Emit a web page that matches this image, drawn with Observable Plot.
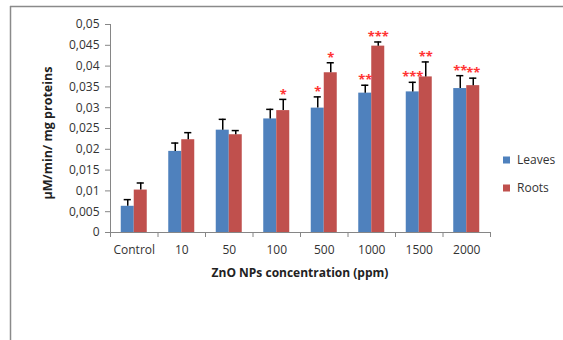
<!DOCTYPE html>
<html>
<head>
<meta charset="utf-8">
<script src="https://cdn.jsdelivr.net/npm/d3@7"></script>
<script src="https://cdn.jsdelivr.net/npm/@observablehq/plot@0.6"></script>
<style>
  body { margin: 0; background: white; }
  #chart svg { display: block; }
</style>
</head>
<body>
<div id="chart"></div>
<script>
const categories = ["Control", "10", "50", "100", "500", "1000", "1500", "2000"];
const leaves    = [0.0063, 0.0195, 0.0246, 0.0273, 0.0299, 0.0335, 0.0338, 0.0346];
const leavesErr = [0.0016, 0.0020, 0.0026, 0.0023, 0.0027, 0.0019, 0.0023, 0.0031];
const roots     = [0.0102, 0.0223, 0.0235, 0.0293, 0.0384, 0.0448, 0.0374, 0.0353];
const rootsErr  = [0.0017, 0.0017, 0.0010, 0.0027, 0.0024, 0.0010, 0.0036, 0.0018];
const leavesSig = ["", "", "", "", "*", "**", "***", "**"];
const rootsSig  = ["", "", "", "*", "*", "***", "**", "**"];
const yTicks = [0, 0.005, 0.01, 0.015, 0.02, 0.025, 0.03, 0.035, 0.04, 0.045, 0.05];
const seriesNames = ["Leaves", "Roots"];
const colors = ["#4F81BD", "#C0504D"];

const bw = 13 / 47.5;      // bar width in band units
const cap = 0.075;         // half cap width in band units

const rows = [];
categories.forEach((c, i) => {
  rows.push({cat: c, i, series: "Leaves", value: leaves[i], err: leavesErr[i], sig: leavesSig[i], x1: i + 0.5 - bw, x2: i + 0.5});
  rows.push({cat: c, i, series: "Roots", value: roots[i], err: rootsErr[i], sig: rootsSig[i], x1: i + 0.5, x2: i + 0.5 + bw});
});
rows.forEach(d => { d.xc = (d.x1 + d.x2) / 2; d.top = d.value + d.err; });

const axisColor = "#868686";
const textColor = "#333333";

const plot = Plot.plot({
  width: 563,
  height: 340,
  marginLeft: 110,
  marginRight: 73,
  marginTop: 24,
  marginBottom: 108,
  x: {domain: [0, categories.length]},
  y: {domain: [0, 0.05]},
  color: {domain: seriesNames, range: colors},
  style: {fontFamily: "'Open Sans', sans-serif", fontSize: "12px", color: textColor, background: "white"},
  marks: [
    Plot.rectY(rows, {x1: "x1", x2: "x2", y1: 0, y2: "value", fill: "series"}),
    Plot.ruleX(rows, {x: "xc", y1: "value", y2: "top", stroke: "black", strokeWidth: 1.5}),
    Plot.ruleY(rows, {y: "top", x1: d => d.xc - cap, x2: d => d.xc + cap, stroke: "black", strokeWidth: 1.5}),
    Plot.text(rows.filter(d => d.sig), {x: "xc", y: "top", text: "sig", fill: "#ff3333", fontSize: 13, fontWeight: "bold", dy: -5}),
    Plot.ruleX([0], {stroke: axisColor}),
    Plot.ruleY([0], {stroke: axisColor}),
    Plot.axisY(yTicks, {tickSize: 5, tickPadding: 6, stroke: axisColor, fill: textColor, label: null,
      tickFormat: d => String(d).replace(".", ",")}),
    Plot.axisX(categories.map((c, i) => i + 0.5), {tickSize: 0, tickPadding: 13, fill: textColor, label: null,
      tickFormat: d => categories[Math.round(d - 0.5)]}),
    Plot.axisX(d3.range(categories.length + 1), {tickSize: 5, stroke: axisColor, label: null, tickFormat: () => ""})
  ]
});

const svg = d3.select(plot);
// frame border (top and left edges visible)
svg.append("line").attr("x1", 10).attr("x2", 563).attr("y1", 6.5).attr("y2", 6.5)
  .attr("stroke", "#8a8a8a").attr("stroke-width", 1.5);
svg.append("line").attr("x1", 10.5).attr("x2", 10.5).attr("y1", 6).attr("y2", 340)
  .attr("stroke", "#8a8a8a").attr("stroke-width", 1.5);

// axis titles
svg.append("text").attr("x", 300).attr("y", 277).attr("text-anchor", "middle")
  .attr("font-weight", "bold").attr("font-size", 12).attr("fill", "#222")
  .text("ZnO NPs concentration (ppm)");
svg.append("text").attr("transform", "translate(52,133) rotate(-90)").attr("text-anchor", "middle")
  .attr("font-weight", "bold").attr("font-size", 12.5).attr("fill", "#222")
  .text("µM/min/ mg proteins");

// legend
const legendY = [160, 188];
seriesNames.forEach((s, k) => {
  svg.append("rect").attr("x", 503).attr("y", legendY[k] - 3.5).attr("width", 7).attr("height", 7).attr("fill", colors[k]);
  svg.append("text").attr("x", 517).attr("y", legendY[k]).attr("dy", "0.35em").attr("text-anchor", "start")
    .attr("font-size", 12).attr("fill", textColor).text(s);
});

document.getElementById("chart").appendChild(plot);
</script>
</body>
</html>
